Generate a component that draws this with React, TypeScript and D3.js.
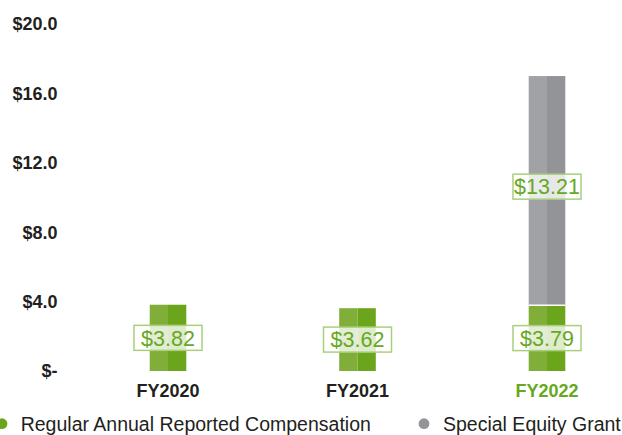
import React from "react";
import * as d3 from "d3";

const categories = ["FY2020", "FY2021", "FY2022"];
const regularComp = [3.82, 3.62, 3.79];
const specialGrant = [0, 0, 13.21];
const yTickValues = [0, 4, 8, 12, 16, 20];
const yTickLabels = ["$-", "$4.0", "$8.0", "$12.0", "$16.0", "$20.0"];
const highlighted = ["FY2022"];
const legendItems = ["Regular Annual Reported Compensation", "Special Equity Grant"];

const W = 622;
const H = 435;
const GREEN_L = "#80ae38";
const GREEN_R = "#6ba51c";
const GRAY_L = "#a1a2a6";
const GRAY_R = "#939498";
const LABEL_GREEN = "#66a822";
const BOX_STROKE = "#a8d07c";
const TEXT = "#231f20";
const FONT = "'Liberation Sans', Arial, Helvetica, sans-serif";

export default function App() {
  const x = d3.scalePoint<string>().domain(categories).range([168, 547]);
  const y = d3.scaleLinear().domain([0, 20]).range([371, 24]);
  const barW = 36.6;
  const boxW = 68;
  const boxH = 25;

  const stacked = categories.map((c, i) => {
    const segs = [
      { key: "regular", v0: 0, v1: regularComp[i], l: GREEN_L, r: GREEN_R, val: regularComp[i] },
    ];
    if (specialGrant[i] > 0) {
      segs.push({
        key: "special",
        v0: regularComp[i],
        v1: regularComp[i] + specialGrant[i],
        l: GRAY_L,
        r: GRAY_R,
        val: specialGrant[i],
      });
    }
    return { c, segs };
  });

  return (
    <svg
      width={W}
      height={H}
      style={{ position: "absolute", left: 0, top: 0, background: "#fff" }}
      fontFamily={FONT}
    >
      {yTickValues.map((t, i) => (
        <text
          key={t}
          x={57.5}
          y={y(t)}
          dy="0.35em"
          textAnchor="end"
          fontSize={18}
          fontWeight="bold"
          fill={TEXT}
        >
          {yTickLabels[i]}
        </text>
      ))}

      {stacked.map(({ c, segs }) => {
        const cx = x(c)!;
        return (
          <g key={c}>
            {segs.map((s) => {
              const top = y(s.v1);
              const bot = y(s.v0);
              const h = bot - top;
              return (
                <g key={s.key}>
                  <rect x={cx - barW / 2} y={top} width={barW / 2} height={h} fill={s.l} />
                  <rect x={cx} y={top} width={barW / 2} height={h} fill={s.r} />
                </g>
              );
            })}
            {segs.length > 1 && (
              <line
                x1={cx - barW / 2}
                x2={cx + barW / 2}
                y1={y(segs[1].v0)}
                y2={y(segs[1].v0)}
                stroke="#fff"
                strokeWidth={1.6}
              />
            )}
            {segs.map((s) => {
              const mid = (y(s.v0) + y(s.v1)) / 2 - (s.key === "special" ? 4 : 0);
              return (
                <g key={s.key + "-lbl"}>
                  <rect
                    x={cx - boxW / 2}
                    y={mid - boxH / 2}
                    width={boxW}
                    height={boxH}
                    fill="#fff"
                    fillOpacity={0.78}
                    stroke={BOX_STROKE}
                    strokeWidth={1.5}
                  />
                  <text
                    x={cx}
                    y={mid}
                    dy="0.36em"
                    textAnchor="middle"
                    fontSize={21.5}
                    fill={LABEL_GREEN}
                  >
                    {"$" + s.val.toFixed(2)}
                  </text>
                </g>
              );
            })}
            <text
              x={cx}
              y={396.7}
              textAnchor="middle"
              fontSize={18}
              fontWeight="bold"
              fill={highlighted.includes(c) ? LABEL_GREEN : TEXT}
            >
              {c}
            </text>
          </g>
        );
      })}

      <circle cx={2} cy={423.7} r={5.4} fill={GREEN_R} />
      <text x={20.7} y={431} fontSize={19.5} fill={TEXT}>
        {legendItems[0]}
      </text>
      <circle cx={424} cy={423.7} r={5.4} fill={GRAY_R} />
      <text x={443} y={431} fontSize={19.5} fill={TEXT}>
        {legendItems[1]}
      </text>
    </svg>
  );
}
